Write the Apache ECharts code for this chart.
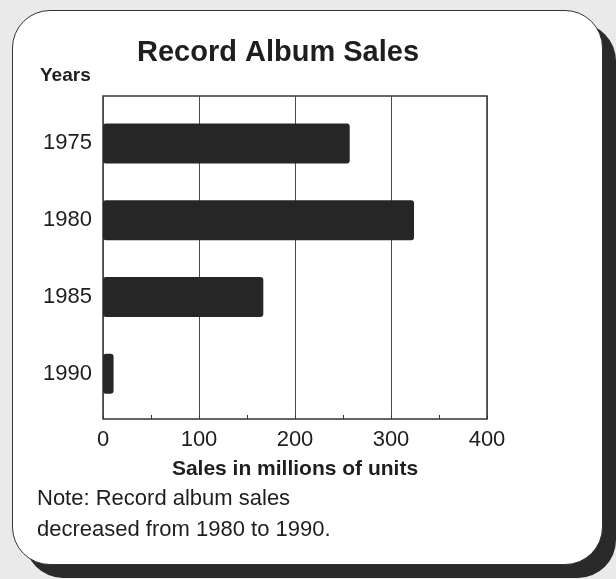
<!DOCTYPE html>
<html>
<head>
<meta charset="utf-8">
<script src="https://cdn.jsdelivr.net/npm/echarts@6/dist/echarts.min.js"></script>
<style>
  html, body { margin: 0; padding: 0; width: 616px; height: 579px; background: #eaeaea; overflow: hidden; }
  #panel { position: absolute; left: 12px; top: 10px; width: 589px; height: 553px; background: #ffffff;
           border: 1.5px solid #333; border-radius: 38px; box-shadow: 13px 13px 0 #2a2a2a; }
  #chart { position: absolute; left: 0; top: 0; width: 616px; height: 579px; }
</style>
</head>
<body>
<div id="panel"></div>
<div id="chart"></div>
<script>
const titleText = 'Record Album Sales';
const yAxisTitle = 'Years';
const xAxisTitle = 'Sales in millions of units';
const noteLines = ['Note: Record album sales', 'decreased from 1980 to 1990.'];
const years = ['1975', '1980', '1985', '1990'];
const sales = [257, 324, 167, 11];
const xMin = 0, xMax = 400, xStep = 100;

const FONT = '"Liberation Sans", Arial, sans-serif';
const TXT = '#1e1e1e';

const chart = echarts.init(document.getElementById('chart'), null, { renderer: 'canvas' });
chart.setOption({
  backgroundColor: 'transparent',
  animation: false,
  title: {
    text: titleText, left: 137, top: 38, padding: 0,
    textStyle: { fontFamily: FONT, fontSize: 29, fontWeight: 'bold', color: TXT }
  },
  grid: [
    { left: 103, top: 96, width: 384, height: 323, show: true, borderColor: '#333', borderWidth: 1.5, backgroundColor: 'transparent' },
    { left: 103, top: 105, width: 384, height: 307 }
  ],
  xAxis: [
    {
      gridIndex: 0, type: 'value', min: xMin, max: xMax, interval: xStep,
      axisLine: { show: false },
      axisTick: { show: true, inside: true, length: 4, lineStyle: { color: '#333' } },
      minorTick: { show: true, splitNumber: 2, length: 4, lineStyle: { color: '#333' } },
      splitLine: { show: true, lineStyle: { color: '#4a4a4a', width: 1 } },
      axisLabel: { margin: 10, fontFamily: FONT, fontSize: 22, color: TXT },
      name: xAxisTitle, nameLocation: 'middle', nameGap: 40,
      nameTextStyle: { fontFamily: FONT, fontSize: 21, fontWeight: 'bold', color: TXT }
    },
    { gridIndex: 1, type: 'value', min: xMin, max: xMax, show: false, splitLine: { show: false } }
  ],
  yAxis: [
    { gridIndex: 0, type: 'category', data: years, show: false },
    {
      gridIndex: 1, type: 'category', data: years, inverse: true,
      axisLine: { show: false }, axisTick: { show: false },
      axisLabel: { margin: 11, fontFamily: FONT, fontSize: 22, color: TXT }
    }
  ],
  graphic: [
    { type: 'text', left: 40, top: 66, style: { text: yAxisTitle, font: 'bold 19px ' + FONT, fill: TXT } },
    { type: 'text', left: 37, top: 488, style: { text: noteLines[0], font: '22px ' + FONT, fill: TXT } },
    { type: 'text', left: 37, top: 519, style: { text: noteLines[1], font: '22px ' + FONT, fill: TXT } }
  ],
  series: [{
    type: 'bar', xAxisIndex: 1, yAxisIndex: 1, data: sales, barWidth: 40,
    itemStyle: { color: '#262626', borderRadius: 3 }
  }]
});
</script>
</body>
</html>
